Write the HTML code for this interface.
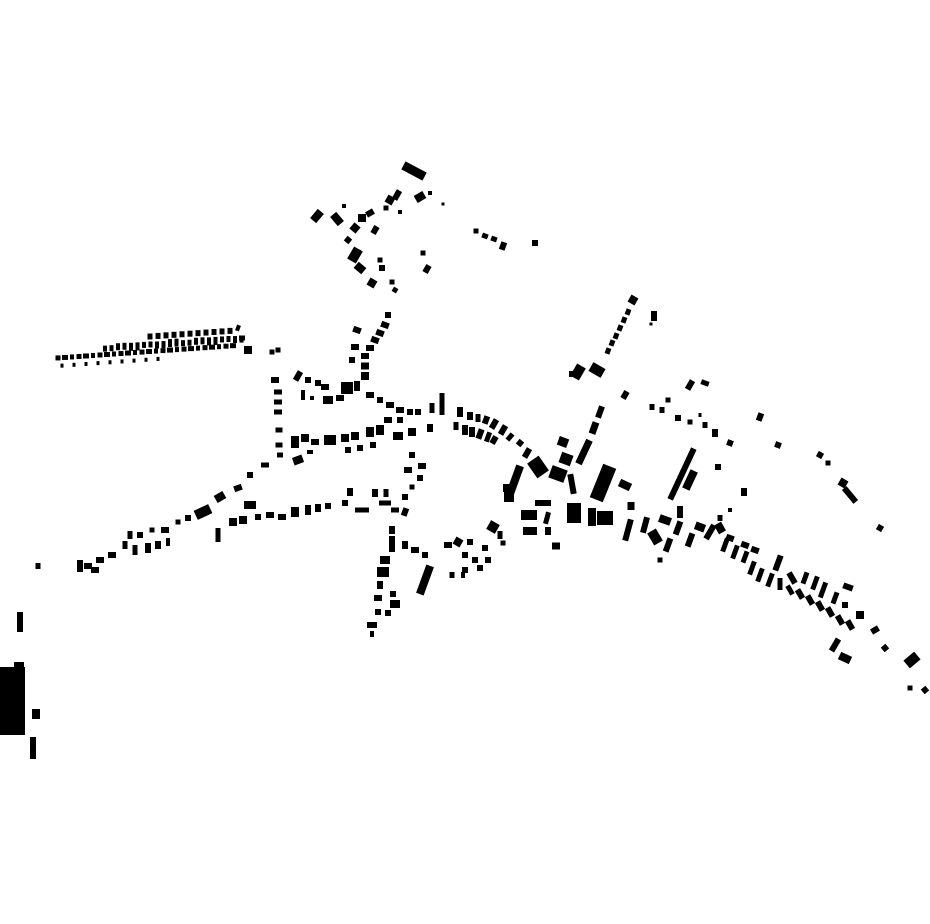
<!DOCTYPE html>
<html><head><meta charset="utf-8"><style>html,body{margin:0;padding:0;background:#fff;width:930px;height:924px;overflow:hidden}</style></head>
<body>
<svg id="s" width="930" height="924" viewBox="0 0 930 924" xmlns="http://www.w3.org/2000/svg">
<rect x="0" y="667" width="25" height="68" fill="#000"/>
<rect x="14" y="662" width="10" height="8" fill="#000"/>
<rect x="17" y="612" width="6" height="20" fill="#000"/>
<rect x="30" y="737" width="6" height="22" fill="#000"/>
<rect x="32" y="709" width="8" height="10" fill="#000"/>
</svg>
<script>
var d=[
[414,171,24,9,28],[317,216,8,12,40],[337,219,8,12,-40],[344,206,4,4,0],[355,228,8,8,40],[362,218,8,8,0],[370,213,8,6,-30],[375,230,6,8,30],[348,240,6,6,40],[355,255,10,14,30],[360,268,10,8,40],[380,260,5,5,0],[382,268,6,6,0],[390,200,8,8,30],[397,195,6,10,30],[386,208,5,5,0],[400,212,4,4,0],[420,197,10,8,-30],[430,193,4,4,0],[443,204,3,3,0],[423,253,5,5,0],[427,269,6,8,30],[372,283,8,8,30],[392,282,5,5,0],[395,290,5,5,30],[476,231,5,5,0],[485,236,6,5,20],[494,239,6,5,20],[503,246,6,8,20],[535,243,6,6,0],
[388,315,6,6,0],[385,325,8,6,20],[380,333,8,6,20],[375,340,8,6,20],[370,348,8,6,0],[365,356,8,6,0],[365,366,8,7,0],[365,376,8,8,0],[357,330,8,6,20],[355,347,8,6,0],[352,360,6,6,0],
[275,380,8,6,0],[278,392,8,5,0],[278,402,8,5,0],[278,412,8,5,0],[279,430,7,5,0],[279,445,7,5,0],[280,455,6,5,0],
[298,376,6,10,30],[308,380,6,6,0],[318,383,6,6,0],[325,387,8,6,0],[303,395,4,10,0],[312,398,4,4,0],[328,400,10,8,0],[340,398,8,6,0],[347,388,12,12,0],[357,386,6,10,0],[370,395,8,6,0],[380,400,6,6,0],[390,405,8,6,0],[400,410,8,6,0],[410,412,6,6,0],[418,412,6,6,0],[432,408,5,10,0],[442,404,5,22,0],
[295,442,8,12,0],[305,438,8,8,0],[315,442,8,6,0],[330,440,12,10,0],[345,438,8,8,0],[355,436,8,8,0],[370,432,8,10,0],[380,430,8,10,0],[398,436,10,8,0],[412,432,8,8,0],[430,428,6,8,0],[298,460,10,8,-20],[310,452,6,4,0],[348,450,6,6,0],[360,448,6,6,0],[373,445,6,6,0],[388,420,8,6,0],[400,420,6,6,0],
[412,455,6,6,0],[422,466,8,6,0],[408,470,8,6,0],[420,478,6,6,0],[412,487,5,5,0],[405,497,6,6,0],
[460,412,6,10,0],[470,416,6,8,0],[478,418,5,8,0],[486,420,6,8,20],[494,424,6,10,30],[503,430,6,10,30],[510,437,5,8,40],[456,426,5,8,0],[465,430,6,10,0],[472,432,6,10,0],[480,434,6,10,20],[488,437,5,10,20],[494,440,6,8,30],[520,443,6,6,40],[527,453,6,10,30],
[265,465,8,5,0],[250,475,6,6,0],[238,488,8,6,-20],[220,497,10,8,-30],[203,512,16,10,-25],[188,518,6,6,0],[178,522,5,5,0],[165,530,8,6,0],[152,530,5,5,0],[140,535,6,6,0],[130,535,5,8,0],[125,545,5,8,0],[135,550,5,10,0],[148,548,6,10,0],[158,545,6,8,0],[168,542,4,8,0],[112,555,8,6,0],[100,560,8,6,0],[88,566,8,6,0],[80,566,6,12,0],[95,570,8,6,0],[38,566,5,6,0],
[218,535,5,14,0],[233,522,8,8,0],[243,520,8,8,0],[250,505,12,8,0],[258,517,6,6,0],[270,515,8,6,0],[282,517,8,6,0],[295,512,8,10,0],[308,510,6,10,0],[318,508,6,8,0],[328,506,6,6,0],[345,503,6,6,0],[350,492,6,8,0],[362,510,14,5,0],[375,493,6,8,0],[385,503,12,5,0],[395,510,8,5,0],[386,493,5,8,0],
[405,512,6,8,20],[392,530,6,8,0],[392,540,6,8,0],[392,548,6,8,0],[405,545,6,8,0],[415,550,8,6,0],[425,555,6,6,0],[385,560,10,8,0],[383,572,12,10,0],[380,585,6,8,0],[378,598,8,6,0],[393,594,6,6,0],[395,604,10,8,0],[388,613,6,6,0],[378,612,6,6,0],[372,625,10,6,0],[372,634,4,6,0],[425,580,8,30,20],
[448,545,8,6,0],[458,542,8,8,30],[470,542,6,6,0],[465,555,6,6,0],[475,560,6,6,0],[485,548,6,6,0],[488,560,6,6,0],[480,568,6,6,0],[465,570,6,6,0],[452,575,5,6,0],[463,575,4,6,0],[493,527,10,10,30],[500,535,5,8,0],[503,543,5,5,0],
[600,412,6,12,20],[594,428,7,12,20],[563,442,10,9,20],[584,452,7,26,25],[566,459,12,11,20],[538,467,14,18,-35],[558,474,16,13,20],[572,484,6,20,-10],[603,483,14,36,22],[625,485,12,8,25],[631,506,7,8,0],[682,474,6,56,25],[690,480,8,20,25],[515,480,8,30,20],[508,488,10,8,0],[509,497,10,10,0],[543,503,16,6,0],[529,515,16,10,0],[530,531,14,8,0],[547,518,5,12,15],[548,531,6,8,0],[574,513,14,20,0],[592,517,8,18,0],[605,518,16,14,0],[556,546,8,7,0],[628,530,6,22,15],
[645,525,6,16,15],[655,537,10,14,-30],[665,520,12,8,20],[680,512,6,12,0],[668,545,6,14,20],[690,540,6,14,20],[700,527,10,8,20],[710,532,6,16,30],[720,528,8,10,-30],[678,528,6,14,20],[660,560,5,5,0],[720,518,5,6,0],[730,510,4,4,0],
[725,545,5,14,20],[735,552,5,14,20],[745,557,5,12,20],[752,568,5,14,20],[760,575,5,14,20],[770,580,5,14,20],[780,584,5,12,0],[790,590,5,10,-30],[800,594,6,10,-30],[810,600,6,10,-30],[820,606,6,10,-30],[830,612,6,10,-30],[840,620,6,10,-30],[850,625,6,10,-30],
[730,538,8,6,20],[745,545,8,6,20],[755,550,8,6,20],[778,563,6,16,20],[792,578,6,12,-30],[805,578,5,12,20],[815,583,5,14,20],[823,590,5,16,20],[835,598,5,12,20],[848,587,10,6,20],[845,605,6,6,0],[860,615,8,8,0],[875,630,8,6,-30],[885,648,6,6,-40],
[835,645,6,14,30],[845,658,12,8,25],[912,660,14,10,-40],[910,688,5,5,0],[925,690,6,6,-40],
[690,385,6,10,30],[705,383,8,5,20],[625,395,6,8,30],[652,407,5,6,0],[662,410,5,6,0],[668,400,5,5,0],[678,418,6,6,0],[690,422,5,5,0],[700,415,3,4,0],[705,425,5,6,0],[715,433,6,8,0],[730,443,6,6,20],[760,417,6,8,20],[778,445,6,6,20],[718,467,6,6,0],[744,492,6,8,0],[820,455,6,6,30],[828,463,5,5,0],[843,483,8,8,30],[850,495,6,18,-40],[880,528,6,6,30],
[633,300,8,8,30],[628,312,5,6,20],[624,320,5,6,20],[620,328,5,6,20],[616,336,5,6,20],[612,343,5,6,20],[608,351,5,6,20],[654,316,6,10,0],[651,324,3,3,0],[578,372,10,14,30],[597,370,14,10,30],[572,374,6,6,0],
[248,350,8,8,0],[238,328,4,6,20],[278,350,5,5,0],[272,352,5,5,0],[242,338,6,5,0]
];
// left strip rows, sloping upward to the right
function yy(x,b){return b-(x-57)*0.07;}
for(var x=58;x<240;x+=7){d.push([x,yy(x,358),4+(x%3),5,0]);}
for(var x=105;x<245;x+=6.5){d.push([x,yy(x,351)+((x|0)%2),4,6+((x|0)%3),0]);}
for(var x=150;x<235;x+=8){d.push([x,yy(x,343),5,6,0]);}
for(var x=62;x<165;x+=12){d.push([x,yy(x,366),3,4,0]);}
var s=document.getElementById('s'),ns='http://www.w3.org/2000/svg';
d.forEach(function(r){var e=document.createElementNS(ns,'rect');e.setAttribute('x',-r[2]/2);e.setAttribute('y',-r[3]/2);e.setAttribute('width',r[2]);e.setAttribute('height',r[3]);e.setAttribute('transform','translate('+r[0]+' '+r[1]+') rotate('+r[4]+')');e.setAttribute('fill','#000');s.appendChild(e);});
</script>
</body></html>
